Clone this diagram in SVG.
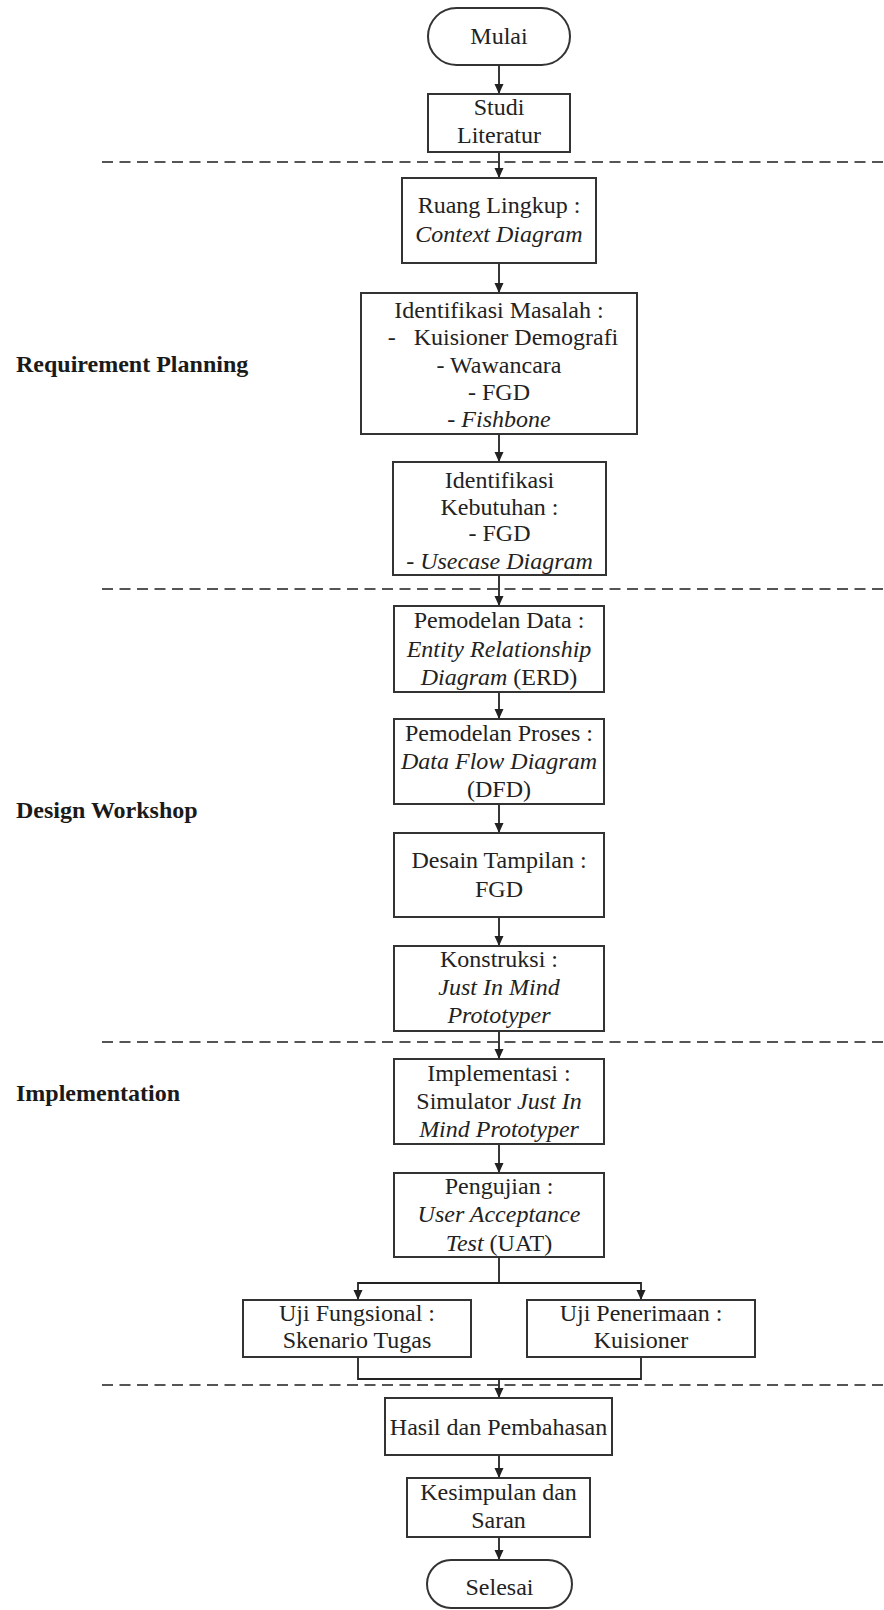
<svg xmlns="http://www.w3.org/2000/svg" width="884" height="1610" viewBox="0 0 884 1610">
  <style>
    .box { fill: #ffffff; stroke: #333333; stroke-width: 2; }
    .t { font-family: "Liberation Serif", "Times New Roman", serif; font-size: 24px; fill: #222222; text-anchor: middle; }
    .i { font-style: italic; }
    .phase { font-family: "Liberation Serif", "Times New Roman", serif; font-size: 24px; font-weight: bold; fill: #1a1a1a; }
    .sep { stroke: #555555; stroke-width: 2; stroke-dasharray: 11 6.5; fill: none; }
    .wire { stroke: #222222; stroke-width: 1.8; fill: none; }
    .arrow { stroke: #222222; stroke-width: 1.8; fill: none; marker-end: url(#head); }
  </style>
  <defs>
    <marker id="head" markerUnits="userSpaceOnUse" markerWidth="10" markerHeight="10" refX="10" refY="5" orient="auto">
      <path d="M0,0.5 L10,5 L0,9.5 z" fill="#222222"/>
    </marker>
  </defs>
  <rect width="884" height="1610" fill="#ffffff"/>

  <!-- phase separators -->
  <g id="separators">
    <line class="sep" x1="102" y1="162" x2="884" y2="162"/>
    <line class="sep" x1="102" y1="589" x2="884" y2="589"/>
    <line class="sep" x1="102" y1="1042" x2="884" y2="1042"/>
    <line class="sep" x1="102" y1="1385" x2="884" y2="1385"/>
  </g>

  <!-- phase labels -->
  <g id="phase-labels">
    <text class="phase" x="16" y="372">Requirement Planning</text>
    <text class="phase" x="16" y="818">Design Workshop</text>
    <text class="phase" x="16" y="1101">Implementation</text>
  </g>

  <!-- connectors -->
  <g id="connectors">
    <line class="arrow" x1="499" y1="65" x2="499" y2="94"/>
    <line class="arrow" x1="499" y1="152" x2="499" y2="178"/>
    <line class="arrow" x1="499" y1="263" x2="499" y2="293"/>
    <line class="arrow" x1="499" y1="434" x2="499" y2="462"/>
    <line class="arrow" x1="499" y1="575" x2="499" y2="606"/>
    <line class="arrow" x1="499" y1="692" x2="499" y2="719"/>
    <line class="arrow" x1="499" y1="804" x2="499" y2="833"/>
    <line class="arrow" x1="499" y1="917" x2="499" y2="946"/>
    <line class="arrow" x1="499" y1="1031" x2="499" y2="1059"/>
    <line class="arrow" x1="499" y1="1144" x2="499" y2="1173"/>
    <!-- split to the two tests -->
    <polyline class="wire" points="499,1257 499,1283"/>
    <polyline class="arrow" points="499,1283 358,1283 358,1300"/>
    <polyline class="arrow" points="499,1283 641,1283 641,1300"/>
    <!-- merge back -->
    <polyline class="wire" points="358,1357 358,1379 641,1379 641,1357"/>
    <line class="arrow" x1="499" y1="1379" x2="499" y2="1398"/>
    <line class="arrow" x1="499" y1="1455" x2="499" y2="1478"/>
    <line class="arrow" x1="499" y1="1537" x2="499" y2="1560"/>
  </g>

  <g id="mulai">
    <rect class="box" x="428" y="8" width="142" height="57" rx="28.5"/>
    <text class="t" x="499" y="44">Mulai</text>
  </g>

  <g id="studi-literatur">
    <rect class="box" x="428" y="94" width="142" height="58"/>
    <text class="t" x="499" y="115">Studi</text>
    <text class="t" x="499" y="143">Literatur</text>
  </g>

  <g id="ruang-lingkup">
    <rect class="box" x="402" y="178" width="194" height="85"/>
    <text class="t" x="499" y="213">Ruang Lingkup :</text>
    <text class="t i" x="499" y="242">Context Diagram</text>
  </g>

  <g id="identifikasi-masalah">
    <rect class="box" x="361" y="293" width="276" height="141"/>
    <text class="t" x="499" y="317.5">Identifikasi Masalah :</text>
    <text class="t" x="503" y="345">-&#160;&#160; Kuisioner Demografi</text>
    <text class="t" x="499" y="372.5">- Wawancara</text>
    <text class="t" x="499" y="400">- FGD</text>
    <text class="t" x="499" y="427">- <tspan class="i">Fishbone</tspan></text>
  </g>

  <g id="identifikasi-kebutuhan">
    <rect class="box" x="393" y="462" width="213" height="113"/>
    <text class="t" x="499.5" y="488">Identifikasi</text>
    <text class="t" x="499.5" y="515">Kebutuhan :</text>
    <text class="t" x="499.5" y="541">- FGD</text>
    <text class="t" x="499.5" y="569">- <tspan class="i">Usecase Diagram</tspan></text>
  </g>

  <g id="pemodelan-data">
    <rect class="box" x="394" y="606" width="210" height="86"/>
    <text class="t" x="499" y="628">Pemodelan Data :</text>
    <text class="t i" x="499" y="657">Entity Relationship</text>
    <text class="t" x="499" y="685"><tspan class="i">Diagram</tspan> (ERD)</text>
  </g>

  <g id="pemodelan-proses">
    <rect class="box" x="394" y="719" width="210" height="85"/>
    <text class="t" x="499" y="741">Pemodelan Proses :</text>
    <text class="t i" x="499" y="769">Data Flow Diagram</text>
    <text class="t" x="499" y="797">(DFD)</text>
  </g>

  <g id="desain-tampilan">
    <rect class="box" x="394" y="833" width="210" height="84"/>
    <text class="t" x="499" y="868">Desain Tampilan :</text>
    <text class="t" x="499" y="897">FGD</text>
  </g>

  <g id="konstruksi">
    <rect class="box" x="394" y="946" width="210" height="85"/>
    <text class="t" x="499" y="967">Konstruksi :</text>
    <text class="t i" x="499" y="995">Just In Mind</text>
    <text class="t i" x="499" y="1023">Prototyper</text>
  </g>

  <g id="implementasi">
    <rect class="box" x="394" y="1059" width="210" height="85"/>
    <text class="t" x="499" y="1081">Implementasi :</text>
    <text class="t" x="499" y="1109">Simulator <tspan class="i">Just In</tspan></text>
    <text class="t i" x="499" y="1137">Mind Prototyper</text>
  </g>

  <g id="pengujian">
    <rect class="box" x="394" y="1173" width="210" height="84"/>
    <text class="t" x="499" y="1194">Pengujian :</text>
    <text class="t i" x="499" y="1222">User Acceptance</text>
    <text class="t" x="499" y="1251"><tspan class="i">Test</tspan> (UAT)</text>
  </g>

  <g id="uji-fungsional">
    <rect class="box" x="243" y="1300" width="228" height="57"/>
    <text class="t" x="357" y="1321">Uji Fungsional :</text>
    <text class="t" x="357" y="1348">Skenario Tugas</text>
  </g>

  <g id="uji-penerimaan">
    <rect class="box" x="527" y="1300" width="228" height="57"/>
    <text class="t" x="641" y="1321">Uji Penerimaan :</text>
    <text class="t" x="641" y="1348">Kuisioner</text>
  </g>

  <g id="hasil-pembahasan">
    <rect class="box" x="385" y="1398" width="227" height="57"/>
    <text class="t" x="498.5" y="1435">Hasil dan Pembahasan</text>
  </g>

  <g id="kesimpulan-saran">
    <rect class="box" x="407" y="1478" width="183" height="59"/>
    <text class="t" x="498.5" y="1500">Kesimpulan dan</text>
    <text class="t" x="498.5" y="1528">Saran</text>
  </g>

  <g id="selesai">
    <rect class="box" x="427" y="1560" width="145" height="48" rx="24"/>
    <text class="t" x="499.5" y="1595">Selesai</text>
  </g>
</svg>
